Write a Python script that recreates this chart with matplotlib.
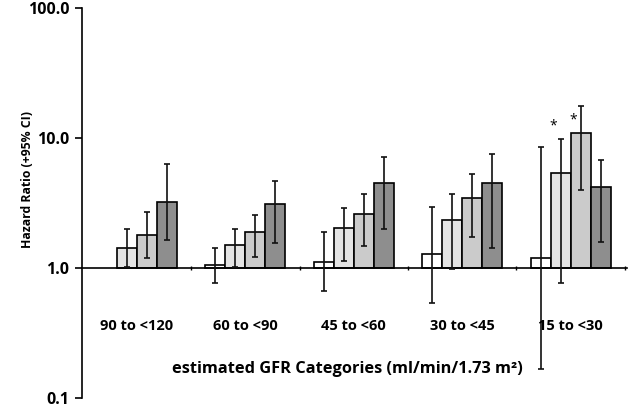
import numpy as np
import matplotlib
matplotlib.use("Agg")
import matplotlib.pyplot as plt
from matplotlib.ticker import FixedLocator, NullFormatter

plt.rcParams['font.family'] = ['Open Sans', 'DejaVu Sans']

# categories and series (hazard ratio with 95% CI)
categories = ["90 to <120", "60 to <90", "45 to <60", "30 to <45", "15 to <30"]
colors = ["#ffffff", "#e4e4e4", "#cbcbcb", "#8e8e8e"]

hr = [
    [np.nan, 1.05, 1.12, 1.28, 1.19],
    [1.43, 1.50, 2.03, 2.34, 5.35],
    [1.79, 1.89, 2.59, 3.47, 10.9],
    [3.24, 3.11, 4.51, 4.50, 4.20],
]
ci_low = [
    [np.nan, 0.76, 0.66, 0.54, 0.166],
    [1.02, 1.02, 1.13, 0.98, 0.76],
    [1.20, 1.22, 1.48, 1.73, 3.96],
    [1.64, 1.56, 2.00, 1.43, 1.59],
]
ci_high = [
    [np.nan, 1.43, 1.89, 2.96, 8.6],
    [1.99, 1.98, 2.91, 3.73, 9.9],
    [2.68, 2.56, 3.69, 5.26, 17.7],
    [6.34, 4.65, 7.10, 7.57, 6.74],
]
# significance markers: (category index, series index, y position)
stars = [(4, 1, 12.4), (4, 2, 13.8)]

fig = plt.figure(figsize=(6.29, 4.09), dpi=100)
ax = fig.add_axes([0.1304, 0.0269, 0.8666, 0.9535])

x = np.arange(len(categories))
width = 0.184
for s in range(4):
    xs = x + (s - 1.5) * width
    v = np.array(hr[s])
    lo = np.array(ci_low[s])
    hi = np.array(ci_high[s])
    ax.bar(xs, v - 1, bottom=1, width=width, color=colors[s],
           edgecolor="black", linewidth=1.2, zorder=2)
    ax.errorbar(xs, v, yerr=[v - lo, hi - v], fmt="none", ecolor="#111111",
                elinewidth=1.2, capsize=2, capthick=1.2, zorder=3)

for ci, si, yv in stars:
    ax.text(ci + (si - 1.5) * width - 0.07, yv, "*", ha="center", va="center",
            fontsize=10)

ax.set_yscale("log")
ax.set_ylim(0.1, 100)
ax.set_xlim(-0.505, 4.52)
ax.yaxis.set_major_locator(FixedLocator([0.1, 1, 10, 100]))
ax.yaxis.set_minor_locator(FixedLocator([]))
ax.set_yticklabels(["0.1", "1.0", "10.0", "100.0"])
ax.tick_params(axis="y", which="major", direction="out", length=5, width=1.2,
               labelsize=11.5, pad=4)
for lab in ax.get_yticklabels():
    lab.set_fontweight("bold")

ax.set_xticks([])
ax.xaxis.set_minor_locator(FixedLocator(np.arange(0.5, 4.6, 1.0)))
ax.xaxis.set_minor_formatter(NullFormatter())
ax.tick_params(axis="x", which="minor", direction="inout", length=3, width=1)

ax.spines["top"].set_visible(False)
ax.spines["right"].set_visible(False)
ax.spines["bottom"].set_position(("data", 1))
ax.spines["left"].set_linewidth(1.2)
ax.spines["bottom"].set_linewidth(1.2)

for i, c in enumerate(categories):
    ax.text(i, 0.355, c, ha="center", va="center", fontsize=10.5, fontweight="bold")

ax.text(1.94, 0.168, "estimated GFR Categories (ml/min/1.73 m²)",
        ha="center", va="center", fontsize=11.8, fontweight="bold")

fig.text(0.043, 0.56, "Hazard Ratio (+95% CI)", rotation=90, ha="center",
         va="center", fontsize=8.8, fontweight="bold")

fig.savefig("out.png", dpi=100)
